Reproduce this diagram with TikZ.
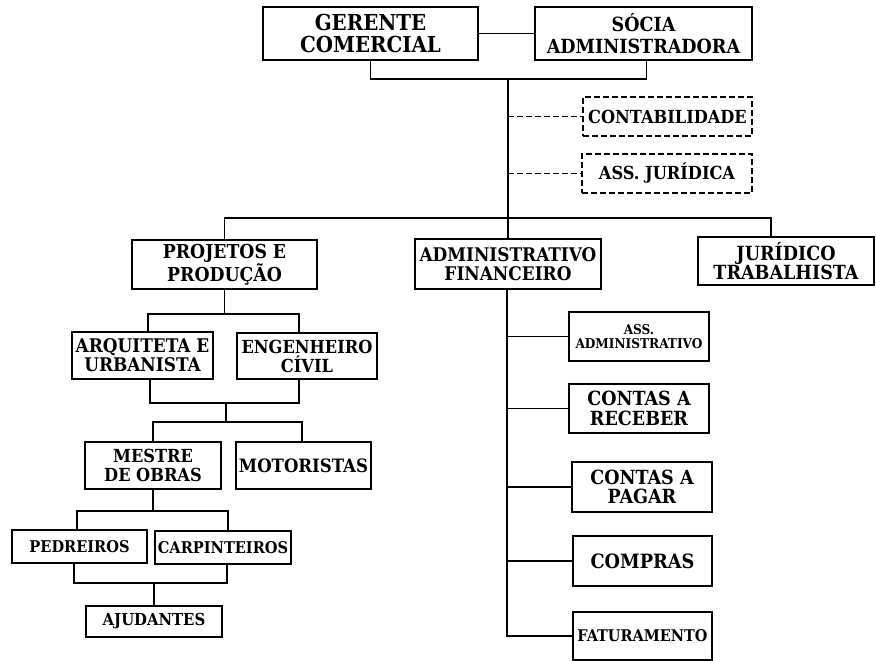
\documentclass[tikz,border=0pt]{standalone}
\usepackage{fontspec}
\setmainfont{DejaVu Serif Condensed}
\usepackage{tikz}

\tikzset{
  orgbox/.style={draw, line width=2pt, align=center, inner sep=0pt},
  topbox/.style={orgbox, line width=2.6pt},
  extbox/.style={orgbox, dash pattern=on 6pt off 3pt, line width=1.7pt},
  fsz/.style 2 args={font=\bfseries\fontsize{#1}{#2}\selectfont},
  link/.style={line width=1.9pt},
}

\begin{document}
\begin{tikzpicture}[x=1pt, y=-1pt]
    \useasboundingbox (0,0) rectangle (876,661);
    % direcao
    \node[topbox, fsz={22}{22}, minimum width=215pt, minimum height=53pt] (gerente) at (370.5,33.5) {GERENTE\\COMERCIAL};
    \node[topbox, fsz={19.5}{22}, minimum width=217pt, minimum height=53pt] (socia) at (643.5,33.5) {SÓCIA\\ADMINISTRADORA};
    \node[extbox, fsz={18}{18}, minimum width=169pt, minimum height=39pt] (contab) at (667.5,116.5) {CONTABILIDADE};
    \node[extbox, fsz={18}{18}, minimum width=170pt, minimum height=39pt] (assjur) at (667,173.5) {ASS. JURÍDICA};
    % setores
    \node[orgbox, fsz={19.2}{19.5}, minimum width=185pt, minimum height=49pt] (projetos) at (224.5,264.5) {PROJETOS E\\PRODUÇÃO};
    \node[orgbox, fsz={18.8}{19.5}, minimum width=186pt, minimum height=50pt] (admin) at (508,264) {ADMINISTRATIVO\\FINANCEIRO};
    \node[orgbox, line width=2.3pt, fsz={19.5}{19.5}, minimum width=176pt, minimum height=48pt] (juridico) at (786,261) {JURÍDICO\\TRABALHISTA};
    % projetos e producao
    \node[orgbox, fsz={18.8}{19}, minimum width=141pt, minimum height=47pt] (arq) at (142.5,355.5) {ARQUITETA E\\URBANISTA};
    \node[orgbox, fsz={18}{19}, minimum width=140pt, minimum height=46pt] (eng) at (307,356) {ENGENHEIRO\\CÍVIL};
    \node[orgbox, fsz={18}{19}, minimum width=136pt, minimum height=47pt] (mestre) at (153,465.5) {MESTRE\\DE OBRAS};
    \node[orgbox, fsz={18.4}{19}, minimum width=135pt, minimum height=47pt] (motor) at (303.5,465.5) {MOTORISTAS};
    \node[orgbox, fsz={16.2}{17}, minimum width=135pt, minimum height=33pt] (pedreiros) at (79.5,546.5) {PEDREIROS};
    \node[orgbox, fsz={16.2}{17}, minimum width=136pt, minimum height=33pt] (carp) at (223,547.5) {CARPINTEIROS};
    \node[orgbox, fsz={16.5}{17}, minimum width=136pt, minimum height=31pt] (ajud) at (154,621.5) {AJUDANTES};
    % administrativo financeiro
    \node[orgbox, fsz={13.5}{13.5}, minimum width=140pt, minimum height=49pt] (assadm) at (639,336.5) {ASS.\\ADMINISTRATIVO};
    \node[orgbox, fsz={19.5}{19.5}, minimum width=140pt, minimum height=49pt] (receber) at (639,408.5) {CONTAS A\\RECEBER};
    \node[orgbox, fsz={19.5}{19.5}, minimum width=140pt, minimum height=50pt] (pagar) at (642,487) {CONTAS A\\PAGAR};
    \node[orgbox, fsz={19.7}{19.5}, minimum width=139pt, minimum height=50pt] (compras) at (642.5,561) {COMPRAS};
    \node[orgbox, fsz={16.1}{17}, minimum width=139pt, minimum height=48pt] (fatur) at (642.5,636) {FATURAMENTO};

    \coordinate (topo) at (508,79);
    \coordinate (barra) at (508,218);
    \coordinate (jur) at (771,218);

    \draw[link] (gerente.east) -- (socia.west);
    \draw[link] (gerente.south) |- (topo) -| ([xshift=3pt]socia.south);
    \draw[link] (topo) -- (barra);
    \draw[link, dash pattern=on 6pt off 3pt] (topo |- contab.west) -- (contab.west);
    \draw[link, dash pattern=on 6pt off 3pt] (topo |- assjur.west) -- (assjur.west);
    \draw[link] (projetos.north) |- (jur) -- (jur |- juridico.north);
    \draw[link] (barra) -- (admin.north);

    \draw[link] (projetos.south) -- ++(0,24) coordinate (p1);
    \draw[link] ([xshift=5.5pt]arq.north) |- (p1) -| ([xshift=-8pt]eng.north);
    \draw[link] ([xshift=7.5pt]arq.south) |- ++(0,23) coordinate (p2) -| ([xshift=-8pt]eng.south);
    \draw[link] (mestre.north) |- (226,422) coordinate (p3) -| ([xshift=-1.5pt]motor.north);
    \draw[link] (226,402) -- (p3);
    \draw[link] (mestre.south) -- ++(0,21) coordinate (p4);
    \draw[link] ([xshift=-2.5pt]pedreiros.north) |- (p4) -| ([xshift=5pt]carp.north);
    \draw[link] ([xshift=-5.5pt]pedreiros.south) |- (ajud.north |- 0,583) -| ([xshift=4pt]carp.south);
    \draw[link] (ajud.north |- 0,583) -- (ajud.north);

    \draw[link] ([xshift=-1pt]admin.south) |- (fatur.west);
    \foreach \n in {assadm,receber,pagar,compras}
      \draw[link] ([xshift=-1pt]admin.south |- \n.west) -- (\n.west);
\end{tikzpicture}
\end{document}
